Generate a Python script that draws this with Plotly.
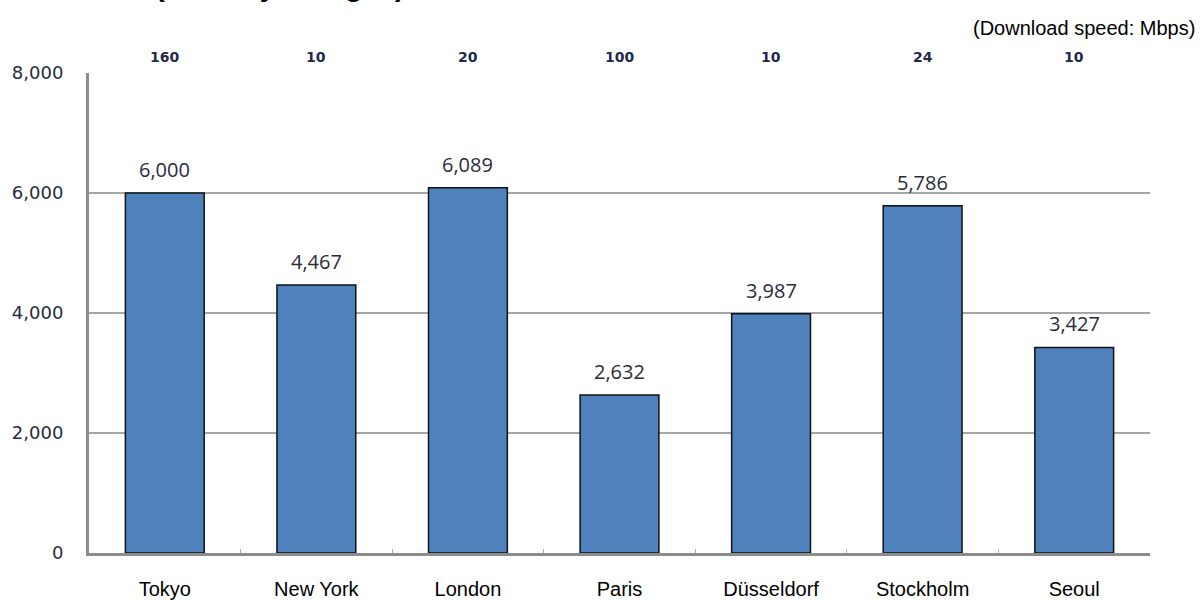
import plotly.graph_objects as go

cities = ["Tokyo", "New York", "London", "Paris", "Düsseldorf", "Stockholm", "Seoul"]
charges = [6000, 4467, 6089, 2632, 3987, 5786, 3427]
speeds = ["160", "10", "20", "100", "10", "24", "10"]
y_ticks = [0, 2000, 4000, 6000, 8000]

PLOT_TOP, PLOT_BOTTOM = 73, 553
PLOT_LEFT, PLOT_RIGHT = 89, 1150
PLOT_H = PLOT_BOTTOM - PLOT_TOP
PLOT_W = PLOT_RIGHT - PLOT_LEFT

fig = go.Figure()
fig.add_trace(go.Bar(
    x=cities, y=charges, width=0.52,
    marker=dict(color="#4F81BD", line=dict(color="#111111", width=1.5)),
    hoverinfo="x+y",
))

annotations = []
for c, v in zip(cities, charges):
    annotations.append(dict(
        x=c, y=v, xref="x", yref="y", text=f"{v:,}", showarrow=False,
        yanchor="bottom", yshift=8,
        font=dict(family="Open Sans, Lato, sans-serif", size=20, color="#2b2b3a"),
    ))
for c, s in zip(cities, speeds):
    annotations.append(dict(
        x=c, y=1 + 16 / PLOT_H, xref="x", yref="paper", text=f"<b>{s}</b>",
        showarrow=False, yanchor="middle",
        font=dict(family="DejaVu Sans, sans-serif", size=14, color="#1f2a4a"),
    ))
annotations.append(dict(
    x=1.0 + 47 / PLOT_W, y=1 + 45 / PLOT_H, xref="paper", yref="paper",
    text="(Download speed: Mbps)", showarrow=False, xanchor="right", yanchor="middle",
    font=dict(family="Liberation Sans, Arial, sans-serif", size=20, color="#000000"),
))
annotations.append(dict(
    x=(153 - PLOT_LEFT) / PLOT_W, y=1 + 69 / PLOT_H, xref="paper", yref="paper",
    text="<b>(Monthly charges)</b>", showarrow=False, xanchor="left", yanchor="bottom",
    font=dict(family="Liberation Sans, Arial, sans-serif", size=29, color="#000000"),
))

fig.update_layout(
    width=1200, height=600,
    margin=dict(l=PLOT_LEFT, r=1200 - PLOT_RIGHT, t=PLOT_TOP, b=600 - PLOT_BOTTOM,
                autoexpand=False),
    paper_bgcolor="white", plot_bgcolor="white",
    showlegend=False,
    annotations=annotations,
)
fig.update_xaxes(
    showline=True, linecolor="#8c8c8c", linewidth=3,
    ticks="inside", ticklen=4, tickcolor="#b0b0b0", tickson="boundaries",
    ticklabelstandoff=16,
    tickfont=dict(family="Liberation Sans, Arial, sans-serif", size=20, color="#000000"),
    showgrid=False, automargin=False,
)
fig.update_yaxes(
    range=[0, 8000], tickvals=y_ticks, tickformat=",",
    showline=True, linecolor="#8c8c8c", linewidth=3,
    showgrid=True, gridcolor="#a6a6a6", gridwidth=1.5,
    zeroline=False, ticks="", ticklabelstandoff=19,
    tickfont=dict(family="DejaVu Sans, sans-serif", size=18, color="#2a2a40"),
    automargin=False,
)

fig.write_html("out.html", config={"displayModeBar": False},
               post_script="document.body.style.margin='0';")
